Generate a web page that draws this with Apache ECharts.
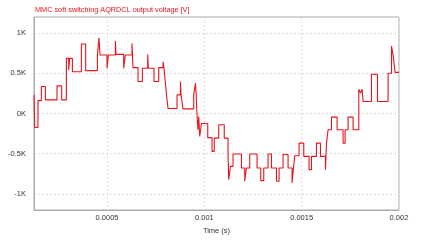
<!DOCTYPE html>
<html><head><meta charset="utf-8">
<script src="https://cdn.jsdelivr.net/npm/echarts@6/dist/echarts.min.js"></script>
<style>html,body{margin:0;padding:0;background:#fff}#c{width:440px;height:245px}</style>
</head><body><div id="c"></div>
<script>
const titleText = 'MMC soft switching AQRDCL output voltage [V]';
const xName = 'Time (s)';
const xTicks = [0.0005, 0.001, 0.0015, 0.002];
const xTickLabels = ['0.0005', '0.001', '0.0015', '0.002'];
const yTicks = [-1000, -500, 0, 500, 1000];
const yTickLabels = ['-1K', '-0.5K', '0K', '0.5K', '1K'];
// step start times (microseconds) and the voltage level held from each time
const timeUs = [125, 128.5, 145.4, 162.9, 183.5, 243.1, 267.2, 291.4, 303.2, 308.3,
  322.2, 368.4, 390.5, 450.7, 458.9, 464.0, 500, 507.2, 543.2, 546.2,
  585.8, 594.6, 628.5, 633.6, 659.3, 681.9, 709.1, 712.7, 741.5, 765.7,
  787.8, 792.9, 798.0, 803.2, 808.3, 813.5, 859.7, 877.2, 880.3, 890.5,
  945.5, 954.3, 958.4, 960.9, 964.5, 967.6, 971.2, 976.4, 985.1, 1017.5,
  1039.6, 1050.9, 1074.0, 1102.3, 1121.8, 1125.4, 1134.1, 1147.5, 1190.6, 1207.6,
  1216.3, 1233.3, 1270.8, 1289.8, 1305.2, 1327.3, 1344.8, 1370.5, 1383.9, 1404.4,
  1430.1, 1450.7, 1457.9, 1464.5, 1486.6, 1510.8, 1538.0, 1550.4, 1576.0, 1596.6,
  1622.3, 1627.4, 1635.7, 1653.1, 1681.9, 1712.7, 1723.0, 1738.4, 1764.1, 1793.4,
  1802.2, 1810.4, 1815.5, 1858.7, 1889.5, 1944.0, 1961.5, 1970, 1975, 1980, 2000];
const voltage = [231, -174, 160, 335, 170, 343, 170, 686, 541, 686,
  520, 864, 533, 727, 942, 727, 562, 727, 900, 735,
  562, 727, 872, 570, 397, 562, 735, 562, 397, 570,
  645, 560, 430, 300, 170, 62, 231, 397, 231, 58,
  231, 376, 231, 50, -100, -202, -37, -285, -125, -300,
  -471, -306, -140, -306, -520, -822, -657, -504, -678, -843,
  -678, -504, -678, -835, -678, -504, -678, -843, -678, -510,
  -678, -864, -678, -525, -368, -533, -698, -533, -368, -533,
  -698, -368, -202, -45, -202, -368, -202, -45, -202, 302,
  253, 302, 149, 488, 149, 500, 839, 720, 620, 512, 512];

const chart = echarts.init(document.getElementById('c'), null, {renderer: 'canvas'});
const fontFamily = 'Liberation Sans, Arial, sans-serif';
chart.setOption({
  animation: false,
  backgroundColor: '#fff',
  title: {
    text: titleText, left: 35, top: 6, padding: 0,
    textStyle: {color: '#e8141c', fontSize: 7.3, fontWeight: 'normal', fontFamily}
  },
  grid: {left: 34, right: 41, top: 17, bottom: 35, show: true, borderColor: '#aaa', borderWidth: 1},
  xAxis: {
    type: 'value', min: 0.000125, max: 0.002,
    name: xName, nameLocation: 'middle', nameGap: 8,
    nameTextStyle: {color: '#333', fontSize: 7.5, fontFamily},
    axisLine: {show: true, onZero: false, lineStyle: {color: '#aaa'}},
    axisTick: {show: false, customValues: xTicks},
    axisLabel: {customValues: xTicks, color: '#333', fontSize: 7.5, fontFamily, margin: 4,
      formatter: v => xTickLabels[xTicks.findIndex(t => Math.abs(t - v) < 1e-9)] ?? ''},
    splitLine: {show: true, lineStyle: {color: '#ddd', type: [2, 2], width: 1}}
  },
  yAxis: {
    type: 'value', min: -1200, max: 1200,
    axisLine: {show: true, onZero: false, lineStyle: {color: '#aaa'}},
    axisTick: {show: false, customValues: yTicks},
    axisLabel: {customValues: yTicks, color: '#333', fontSize: 7.5, fontFamily, margin: 8,
      formatter: v => yTickLabels[yTicks.indexOf(Math.round(v))] ?? ''},
    splitLine: {show: true, lineStyle: {color: '#ddd', type: [2, 2], width: 1}}
  },
  series: [{
    type: 'line', step: 'end', showSymbol: false, symbol: 'none', z: 5,
    lineStyle: {color: '#e8141c', width: 1.1},
    data: timeUs.map((t, i) => [t / 1e6, voltage[i]])
  }]
});
</script></body></html>
